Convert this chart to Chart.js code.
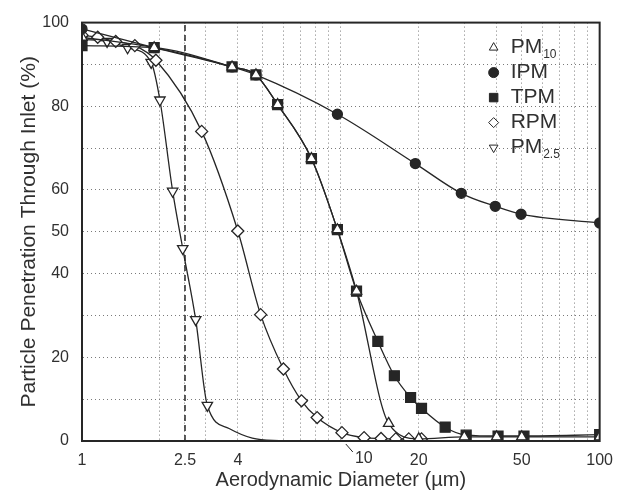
<!DOCTYPE html>
<html>
<head>
<meta charset="utf-8">
<script src="https://cdn.jsdelivr.net/npm/chart.js@4.4.1/dist/chart.umd.min.js"></script>
<style>
  html, body { margin: 0; padding: 0; background: #fff; }
  #wrap { width: 623px; height: 495px; }
</style>
</head>
<body>
<div id="wrap"><canvas id="chart" width="623" height="495"></canvas></div>
<script>
// aerodynamic diameter (um) and penetration (%)
const pm10Size = [1, 1.9, 3.8, 4.7, 5.7, 7.7, 9.7, 11.5, 15.3, 20, 30, 40, 50, 100];
const pm10Pen  = [96.5, 94, 89.4, 87.5, 80.4, 67.5, 50.5, 35.8, 4.2, 0.5, 1, 1, 1, 1];

const ipmSize = [1, 1.9, 3.8, 4.7, 9.7, 19.4, 29.2, 39.5, 49.7, 100];
const ipmPen  = [98.5, 94, 89.4, 87.5, 78.1, 66.3, 59.2, 56.1, 54.2, 52.1];

const tpmSize = [1, 1.9, 3.8, 4.7, 5.7, 7.7, 9.7, 11.5, 13.9, 16.1, 18.6, 20.5, 25.3, 30.5, 40.5, 51, 100];
const tpmPen  = [94.5, 94, 89.4, 87.5, 80.4, 67.5, 50.5, 35.8, 23.8, 15.6, 10.4, 7.8, 3.3, 1.4, 1.2, 1.2, 1.5];

const rpmSize = [1, 1.15, 1.35, 1.6, 1.93, 2.9, 4.0, 4.9, 6.0, 7.05, 8.1, 10.1, 12.3, 14.3, 16.3, 18.3, 20.5];
const rpmPen  = [97, 96.5, 95.5, 94.5, 91, 74, 50.2, 30.2, 17.2, 9.6, 5.6, 2, 0.8, 0.6, 0.5, 0.5, 0.5];

const pm25Size = [1, 1.25, 1.5, 1.85, 2.0, 2.24, 2.45, 2.75, 3.05, 3.7, 4.55, 6];
const pm25Pen  = [96, 95.5, 94, 90.5, 81.5, 59.7, 46, 29, 8.5, 3, 0.7, 0];

// 2.5 um cut line
const cutSize = [2.5, 2.5];
const cutPen  = [0, 100];

const xTickValues = [1, 2, 2.5, 3, 4, 5, 6, 7, 8, 9, 10, 20, 30, 40, 50, 60, 70, 80, 90, 100];
const xTickLabels = [1, 2.5, 4, 20, 50, 100];   // "10" is drawn with a leader below
const yTickLabels = [0, 20, 40, 50, 60, 80, 100];

const legendNames = [['PM', '10'], ['IPM', ''], ['TPM', ''], ['RPM', ''], ['PM', '2.5']];

const ink = '#262626';
const fontFamily = '"Liberation Sans", Arial, Helvetica, sans-serif';
Chart.defaults.font.family = fontFamily;
Chart.defaults.color = '#303030';

const pts = (xs, ys) => xs.map((x, i) => ({ x: x, y: ys[i] }));

function series(label, xs, ys, style, radius, filled, extra) {
  return Object.assign({
    label: label,
    data: pts(xs, ys),
    borderColor: ink,
    borderWidth: 1.3,
    pointStyle: style,
    pointRadius: radius,
    pointBorderColor: ink,
    pointBorderWidth: 1.3,
    pointBackgroundColor: filled ? ink : '#fff',
    cubicInterpolationMode: 'monotone',
    fill: false
  }, extra || {});
}

const datasets = [
  series('PM10', pm10Size, pm10Pen, 'triangle', 6, false),
  series('IPM', ipmSize, ipmPen, 'circle', 5, true),
  series('TPM', tpmSize, tpmPen, 'rect', 7, true),
  series('RPM', rpmSize, rpmPen, 'rectRot', 6, false),
  series('PM2.5', pm25Size, pm25Pen, 'triangle', 6, false, {
    pointRotation: 180,
    pointRadius: c => (c.raw && c.raw.y < 5) ? 0 : 6
  }),
  {
    label: 'cut',
    data: pts(cutSize, cutPen),
    borderColor: '#333',
    borderWidth: 1.6,
    borderDash: [6, 4],
    pointRadius: 0,
    fill: false
  }
];

const decorations = {
  id: 'decorations',
  afterDraw(chart) {
    const { ctx, chartArea: a, scales: { x } } = chart;
    ctx.save();

    // plot frame
    ctx.strokeStyle = ink;
    ctx.lineWidth = 2;
    ctx.strokeRect(a.left, a.top, a.right - a.left, a.bottom - a.top);

    // "10" label set off to the right with a short leader
    const tenX = x.getPixelForValue(10);
    ctx.lineWidth = 1;
    ctx.beginPath();
    ctx.moveTo(tenX + 5, a.bottom + 3);
    ctx.lineTo(tenX + 12, a.bottom + 11);
    ctx.stroke();
    ctx.fillStyle = '#303030';
    ctx.font = '16px ' + fontFamily;
    ctx.textAlign = 'center';
    ctx.textBaseline = 'top';
    ctx.fillText('10', tenX + 23, a.bottom + 10);

    // legend, top right inside the plot
    const mx = a.right - 106;
    const tx = a.right - 89;
    legendNames.forEach((name, i) => {
      const ds = chart.data.datasets[i];
      const y = a.top + 25 + i * 25;
      ctx.fillStyle = ds.pointBackgroundColor;
      ctx.strokeStyle = ink;
      Chart.helpers.drawPoint(ctx, {
        pointStyle: ds.pointStyle,
        rotation: ds.pointRotation || 0,
        radius: i === 2 ? 6 : 5,
        borderWidth: 1.3
      }, mx, y);
      ctx.fillStyle = '#303030';
      ctx.textAlign = 'left';
      ctx.textBaseline = 'middle';
      ctx.font = '21px ' + fontFamily;
      ctx.fillText(name[0], tx, y);
      if (name[1]) {
        const w = ctx.measureText(name[0]).width;
        ctx.font = '12px ' + fontFamily;
        ctx.fillText(name[1], tx + w + 1, y + 7);
      }
    });
    ctx.restore();
  }
};

new Chart(document.getElementById('chart'), {
  type: 'line',
  data: { datasets: datasets },
  options: {
    responsive: false,
    animation: false,
    devicePixelRatio: 1,
    layout: { padding: { top: 17, right: 20, bottom: 0, left: 0 } },
    plugins: { legend: { display: false }, tooltip: { enabled: false } },
    scales: {
      x: {
        type: 'logarithmic',
        min: 1,
        max: 100,
        afterBuildTicks: s => { s.ticks = xTickValues.map(v => ({ value: v })); },
        afterFit: s => { s.height = 54; },
        ticks: {
          autoSkip: false,
          maxRotation: 0,
          padding: 10,
          font: { size: 16 },
          callback: v => xTickLabels.includes(v) ? String(v) : ''
        },
        grid: { color: '#7a7a7a', lineWidth: 1, drawTicks: false },
        border: { display: true, color: ink, width: 2, dash: [1, 3] },
        title: {
          display: true,
          text: 'Aerodynamic Diameter (µm)',
          font: { size: 20 },
          padding: { top: 0, bottom: 3 }
        }
      },
      y: {
        min: 0,
        max: 100,
        afterFit: s => { s.width = 82; },
        ticks: {
          stepSize: 10,
          autoSkip: false,
          padding: 13,
          font: { size: 16 },
          callback: v => yTickLabels.includes(v) ? String(v) : ''
        },
        grid: { color: '#7a7a7a', lineWidth: 1, drawTicks: false },
        border: { display: true, color: ink, width: 2, dash: [1, 3] },
        title: {
          display: true,
          text: 'Particle Penetration Through Inlet (%)',
          font: { size: 21 },
          padding: { top: 17, bottom: 0 }
        }
      }
    }
  },
  plugins: [decorations]
});
</script>
</body>
</html>
